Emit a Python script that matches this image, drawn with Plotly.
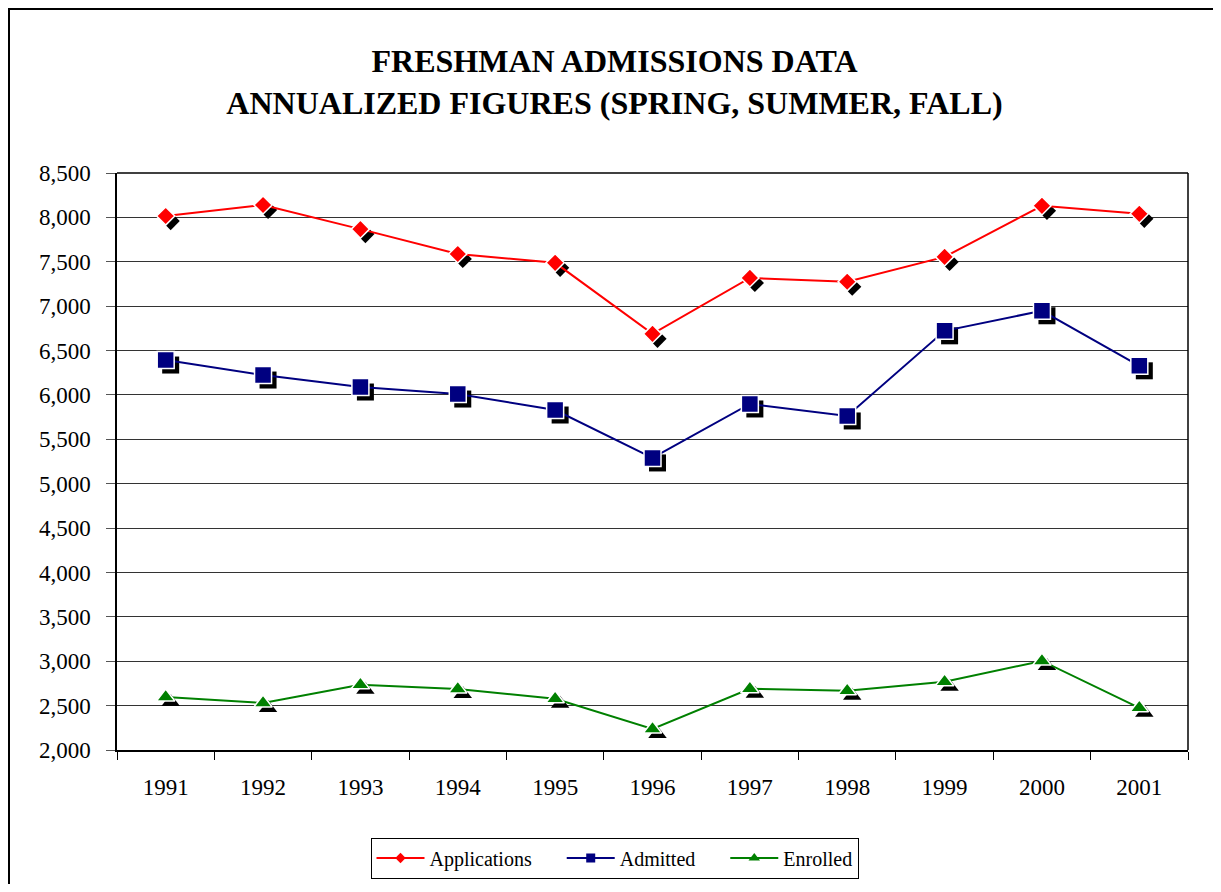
import plotly.graph_objects as go

years = ["1991", "1992", "1993", "1994", "1995", "1996", "1997", "1998", "1999", "2000", "2001"]
applications = [8015, 8140, 7868, 7588, 7488, 6688, 7318, 7275, 7555, 8130, 8040]
admitted = [6393, 6224, 6089, 6010, 5830, 5290, 5898, 5763, 6722, 6948, 6328]
enrolled = [2597, 2530, 2735, 2688, 2577, 2237, 2690, 2667, 2768, 3003, 2475]

# page body has an 8px margin; figure is sized to fit the 1221x892 window
OFF = 8
W, H = 1213, 876


def fx(x):
    return (x - OFF) / W


def fy(y):
    return 1 - (y - OFF) / H


px0, px1 = 117, 1188
py0, py1 = 173, 750
dx, dy = 5, 5

xd = [fx(px0), fx(px1)]
yd = [fy(py1), fy(py0)]
xd_s = [fx(px0 + dx), fx(px1 + dx)]
yd_s = [fy(py1 + dy), fy(py0 + dy)]

FONT = "Liberation Serif"
PAD = "\u00a0" * 5
series = [
    ("Applications", applications, "#FF0000", "diamond", 14, 8, PAD),
    ("Admitted", admitted, "#000080", "square", 17, 9, PAD),
    ("Enrolled", enrolled, "#008000", "triangle-up", 16, 10, ""),
]

fig = go.Figure()

# legend entries (on the main axes, so the axes get drawn)
for name, vals, col, sym, sz, lsz, pad in series:
    fig.add_trace(go.Scatter(
        x=[None], y=[None], mode="lines+markers", xaxis="x", yaxis="y", name=name + pad,
        line=dict(color=col, width=2),
        marker=dict(symbol=sym, size=lsz, color=col)))

# shadows (subplot x2y2, shifted domain)
for name, vals, col, sym, sz, lsz, pad in series:
    fig.add_trace(go.Scatter(
        x=years, y=vals, mode="markers", xaxis="x2", yaxis="y2",
        marker=dict(symbol=sym, size=sz, color="black", line=dict(width=0)),
        showlegend=False, hoverinfo="skip"))

# main series (subplot x3y3)
for name, vals, col, sym, sz, lsz, pad in series:
    fig.add_trace(go.Scatter(
        x=years, y=vals, mode="lines+markers", xaxis="x3", yaxis="y3", name=name,
        line=dict(color=col, width=2),
        marker=dict(symbol=sym, size=sz, color=col, line=dict(color="white", width=1.5)),
        showlegend=False))

yr = [2000, 8500]
ticks = list(range(2000, 8501, 500))

fig.update_layout(
    width=W, height=H,
    margin=dict(l=0, r=0, t=0, b=0, pad=0, autoexpand=False),
    paper_bgcolor="white",
    plot_bgcolor="rgba(0,0,0,0)",
    font=dict(family=FONT, color="black", size=19),
    title=dict(
        text="<b>FRESHMAN ADMISSIONS DATA<br>ANNUALIZED FIGURES (SPRING, SUMMER, FALL)</b>",
        x=0.5, xanchor="center", y=fy(72), yanchor="middle", automargin=False,
        font=dict(family=FONT, size=32, color="black")),
    xaxis=dict(domain=xd, type="category", categoryorder="array", categoryarray=years,
               range=[-0.5, 10.5], showgrid=False, showline=True, linecolor="black", linewidth=2,
               mirror=False, ticks="outside", tickson="boundaries", ticklen=8, tickcolor="black",
               tickfont=dict(size=23), ticklabelstandoff=15, anchor="y", automargin=False),
    yaxis=dict(domain=yd, range=yr, tickvals=ticks, tickformat=",", showgrid=True,
               gridcolor="#333333", gridwidth=1, showline=True, linecolor="black", linewidth=1.5,
               ticks="outside", ticklen=9, tickcolor="#555555", tickfont=dict(size=23),
               ticklabelstandoff=11, zeroline=False, anchor="x", automargin=False),
    xaxis2=dict(domain=xd_s, type="category", categoryorder="array", categoryarray=years,
                range=[-0.5, 10.5], visible=False, anchor="y2"),
    yaxis2=dict(domain=yd_s, range=yr, visible=False, anchor="x2"),
    xaxis3=dict(domain=xd, type="category", categoryorder="array", categoryarray=years,
                range=[-0.5, 10.5], visible=False, anchor="y3"),
    yaxis3=dict(domain=yd, range=yr, visible=False, anchor="x3"),
    legend=dict(orientation="h", x=0.5, xanchor="center", y=fy(858), yanchor="middle",
                bordercolor="black", borderwidth=1, bgcolor="white",
                font=dict(family=FONT, size=20), itemwidth=48),
    showlegend=True,
    shapes=[
        dict(type="rect", xref="paper", yref="paper", x0=1 / W, x1=1210 / W, y0=-0.05, y1=1 - 1 / H,
             line=dict(color="black", width=2), layer="below"),
        dict(type="line", xref="paper", yref="paper", x0=xd[0], x1=xd[1], y0=yd[1], y1=yd[1],
             line=dict(color="black", width=1.5)),
        dict(type="line", xref="paper", yref="paper", x0=xd[1], x1=xd[1], y0=yd[0], y1=yd[1],
             line=dict(color="black", width=1.5)),
    ],
)

fig.write_html("out.html", config={"displayModeBar": False})
